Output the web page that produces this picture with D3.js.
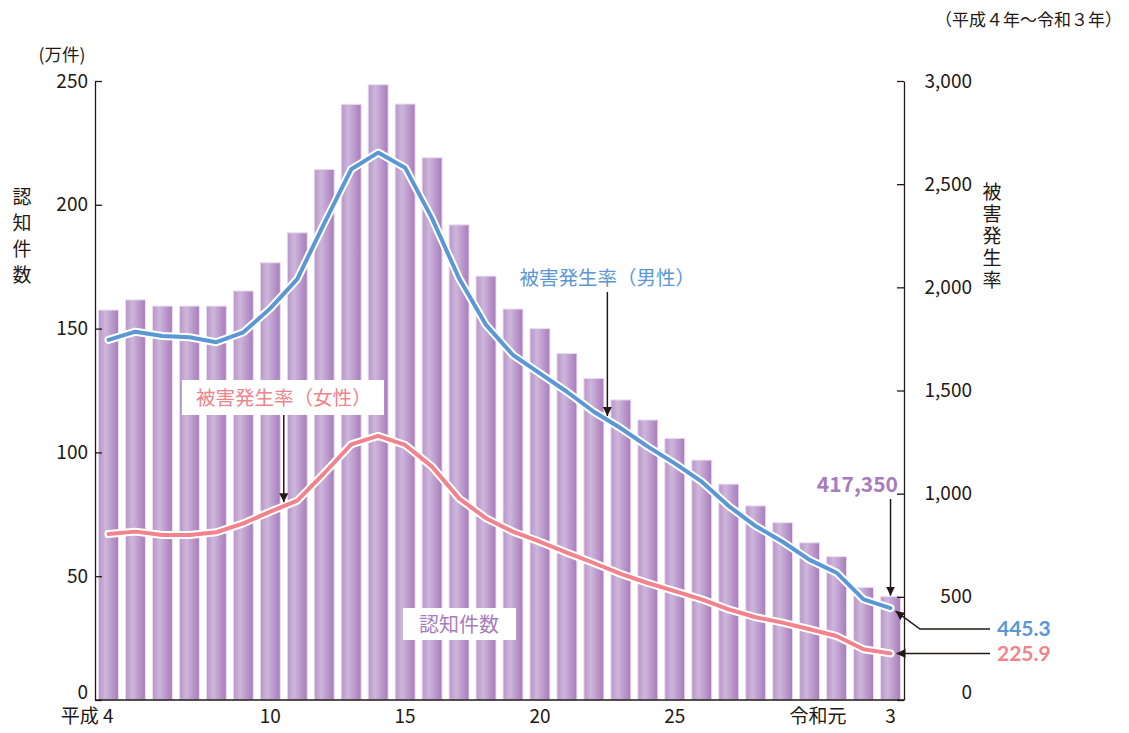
<!DOCTYPE html>
<html>
<head>
<meta charset="utf-8">
<script src="https://cdn.jsdelivr.net/npm/d3@7"></script>
<style>
  html, body { margin: 0; padding: 0; background: #fff; }
  svg { display: block; font-family: "Noto Sans CJK JP", "Noto Sans", sans-serif; }
</style>
</head>
<body>
<svg id="chart" width="1129" height="733"></svg>
<script>
// --- Data (平成4年〜令和3年) ---
const years = ['H4','H5','H6','H7','H8','H9','H10','H11','H12','H13','H14','H15','H16','H17','H18',
  'H19','H20','H21','H22','H23','H24','H25','H26','H27','H28','H29','H30','R1','R2','R3'];

// 認知件数 (万件)
const counts = [157.5, 161.6, 159.1, 159.1, 159.1, 165.2, 176.6, 188.7, 214.3, 240.6, 248.5, 240.7, 219.0, 191.9, 171.2,
  157.9, 150.0, 140.0, 129.9, 121.2, 113.1, 105.7, 96.9, 87.2, 78.4, 71.6, 63.5, 57.9, 45.5, 41.735];

// 被害発生率（男性）
const rateMale = [1745, 1785, 1764, 1758, 1734, 1782, 1898, 2040, 2310, 2572, 2653, 2580, 2334, 2044, 1818,
  1672, 1583, 1494, 1397, 1317, 1228, 1147, 1058, 940, 843, 767, 679, 617, 488, 445.3];

// 被害発生率（女性）
const rateFemale = [804, 816, 800, 800, 813, 856, 913, 966, 1099, 1239, 1280, 1236, 1131, 977, 881,
  816, 767, 714, 664, 611, 567, 528, 488, 439, 401, 375, 343, 310, 246, 225.9];

const leftTicks = [0, 50, 100, 150, 200, 250];
const rightTicks = [0, 500, 1000, 1500, 2000, 2500, 3000];
const xTickCats = ['H4', 'H10', 'H15', 'H20', 'H25', 'R1', 'R3'];
const xTickTexts = ['平成 4', '10', '15', '20', '25', '令和元', '3'];

const BLUE = '#5b97d4';
const PINK = '#f0838b';
const PURPLE_TXT = '#a77cbf';
const INK = '#231815';

const svg = d3.select('#chart');

const x = d3.scaleBand().domain(years).range([95, 904]).paddingInner(0.26).paddingOuter(0.13);
const yL = d3.scaleLinear().domain([0, 250]).range([700, 81]);
const yR = d3.scaleLinear().domain([0, 3000]).range([700, 81]);
const cx = d => x(d) + x.bandwidth() / 2;

// --- Bar gradient ---
const defs = svg.append('defs');
const grad = defs.append('linearGradient').attr('id', 'barGrad')
  .attr('x1', '0%').attr('x2', '100%').attr('y1', '0%').attr('y2', '0%');
grad.append('stop').attr('offset', '0%').attr('stop-color', '#b995c8');
grad.append('stop').attr('offset', '35%').attr('stop-color', '#cdb6db');
grad.append('stop').attr('offset', '100%').attr('stop-color', '#a87bbb');

defs.append('marker').attr('id', 'arrow')
  .attr('viewBox', '0 0 10 10').attr('refX', 10).attr('refY', 5)
  .attr('markerWidth', 9).attr('markerHeight', 9).attr('markerUnits', 'userSpaceOnUse')
  .attr('orient', 'auto')
  .append('path').attr('d', 'M0,0 L10,5 L0,10 z').attr('fill', INK);

// --- Bars ---
svg.append('g').selectAll('rect').data(years).join('rect')
  .attr('x', d => x(d))
  .attr('y', (d, i) => yL(counts[i]))
  .attr('width', x.bandwidth())
  .attr('height', (d, i) => yL(0) - yL(counts[i]))
  .attr('fill', 'url(#barGrad)')
  .attr('stroke', '#eadff0')
  .attr('stroke-width', 1);

// --- Lines (white halo + colored) ---
function drawLine(values, color) {
  const line = d3.line().x((d, i) => cx(years[i])).y(d => yR(d));
  svg.append('path').datum(values).attr('d', line)
    .attr('fill', 'none').attr('stroke', '#fff').attr('stroke-width', 8)
    .attr('stroke-linejoin', 'round').attr('stroke-linecap', 'round');
  svg.append('path').datum(values).attr('d', line)
    .attr('fill', 'none').attr('stroke', color).attr('stroke-width', 4)
    .attr('stroke-linejoin', 'round').attr('stroke-linecap', 'round');
}
drawLine(rateMale, BLUE);
drawLine(rateFemale, PINK);

// --- Axes ---
const axL = svg.append('g').attr('transform', 'translate(95,0)')
  .call(d3.axisLeft(yL).tickValues(leftTicks).tickSizeInner(-7).tickSizeOuter(0).tickPadding(7));
const axR = svg.append('g').attr('transform', 'translate(904,0)')
  .call(d3.axisRight(yR).tickValues(rightTicks).tickSizeInner(-7).tickSizeOuter(0).tickPadding(7)
    .tickFormat(d3.format(',')));
axR.selectAll('text').attr('text-anchor', 'end').attr('x', 68);

const axB = svg.append('g').attr('transform', 'translate(0,700)')
  .call(d3.axisBottom(x).tickValues(xTickCats).tickSize(0).tickPadding(10)
    .tickFormat((d, i) => xTickTexts[i]));
axB.select('.domain').attr('d', 'M95,0H904');

[axL, axR, axB].forEach(g => {
  g.select('.domain').attr('stroke', INK).attr('stroke-width', 1.3);
  g.selectAll('.tick line').attr('stroke', INK).attr('stroke-width', 1.3);
  g.selectAll('text').attr('font-size', 19).attr('fill', INK)
    .attr('font-family', '"Noto Sans CJK JP", sans-serif');
});
axL.selectAll('.tick').filter(d => d === 0).select('text').attr('dy', '-0.1em');
axR.selectAll('.tick').filter(d => d === 0).select('text').attr('dy', '-0.1em');
axB.selectAll('.tick').filter(d => d === 'H4').select('text').attr('text-anchor', 'end').attr('dx', 5);
axB.selectAll('.tick').filter(d => d === 'R1').select('text').attr('text-anchor', 'end').attr('dx', 10);

// --- Axis titles ---
svg.append('text').attr('x', 62).attr('y', 61).attr('text-anchor', 'middle')
  .attr('font-size', 17.5).attr('fill', INK).text('(万件)');
svg.append('text').attr('x', 1122).attr('y', 26).attr('text-anchor', 'end')
  .attr('font-size', 17).attr('fill', INK).text('（平成４年～令和３年）');

function vertical(str, xPos, yTop, spacing, size) {
  svg.append('text')
    .attr('x', xPos).attr('y', yTop)
    .attr('writing-mode', 'vertical-rl')
    .style('letter-spacing', spacing + 'px')
    .attr('font-size', size).attr('fill', INK).text(str);
}
vertical('認知件数', 22, 187, 7, 19);
vertical('被害発生率', 992, 182, 3, 19);

// --- Annotations ---
const step = x.step();

// 被害発生率（男性）
const mX = cx('H22') + step / 2;
svg.append('text').attr('x', mX).attr('y', 285).attr('text-anchor', 'middle')
  .attr('font-size', 19.5).attr('fill', BLUE).text('被害発生率（男性）');
svg.append('line').attr('x1', mX).attr('x2', mX).attr('y1', 292)
  .attr('y2', (yR(rateMale[18]) + yR(rateMale[19])) / 2 - 4)
  .attr('stroke', INK).attr('stroke-width', 1.5).attr('marker-end', 'url(#arrow)');

// 被害発生率（女性）
const fX = cx('H10') + step / 2;
svg.append('rect').attr('x', 182).attr('y', 380).attr('width', 202).attr('height', 35).attr('fill', '#fff');
svg.append('text').attr('x', fX).attr('y', 405).attr('text-anchor', 'middle')
  .attr('font-size', 19.5).attr('fill', PINK).text('被害発生率（女性）');
svg.append('line').attr('x1', fX).attr('x2', fX).attr('y1', 415)
  .attr('y2', (yR(rateFemale[6]) + yR(rateFemale[7])) / 2 - 4)
  .attr('stroke', INK).attr('stroke-width', 1.5).attr('marker-end', 'url(#arrow)');

// 認知件数
svg.append('rect').attr('x', 403).attr('y', 608).attr('width', 113).attr('height', 32).attr('fill', '#fff');
svg.append('text').attr('x', 459).attr('y', 632).attr('text-anchor', 'middle')
  .attr('font-size', 20).attr('fill', PURPLE_TXT).text('認知件数');

// Final values
const last = years.length - 1;
const lastX = cx(years[last]);
svg.append('text').attr('x', 898).attr('y', 492).attr('text-anchor', 'end')
  .attr('font-size', 21).attr('font-weight', 700).attr('fill', PURPLE_TXT)
  .text(d3.format(',')(Math.round(counts[last] * 10000)));
svg.append('line').attr('x1', lastX).attr('x2', lastX).attr('y1', 499).attr('y2', yL(counts[last]) - 1)
  .attr('stroke', INK).attr('stroke-width', 1.5).attr('marker-end', 'url(#arrow)');

svg.append('text').attr('x', 997).attr('y', 636)
  .attr('font-family', 'Lato, sans-serif')
  .attr('font-size', 21).attr('font-weight', 700).attr('fill', BLUE).text(rateMale[last]);
svg.append('path')
  .attr('d', `M990,629H920L${lastX + 5},${yR(rateMale[last]) + 3}`)
  .attr('fill', 'none').attr('stroke', INK).attr('stroke-width', 1.5).attr('marker-end', 'url(#arrow)');

svg.append('text').attr('x', 997).attr('y', 660.5)
  .attr('font-family', 'Lato, sans-serif')
  .attr('font-size', 21).attr('font-weight', 700).attr('fill', PINK).text(rateFemale[last]);
svg.append('path')
  .attr('d', `M990,${yR(rateFemale[last])}H${lastX + 6}`)
  .attr('fill', 'none').attr('stroke', INK).attr('stroke-width', 1.5).attr('marker-end', 'url(#arrow)');
</script>
</body>
</html>
